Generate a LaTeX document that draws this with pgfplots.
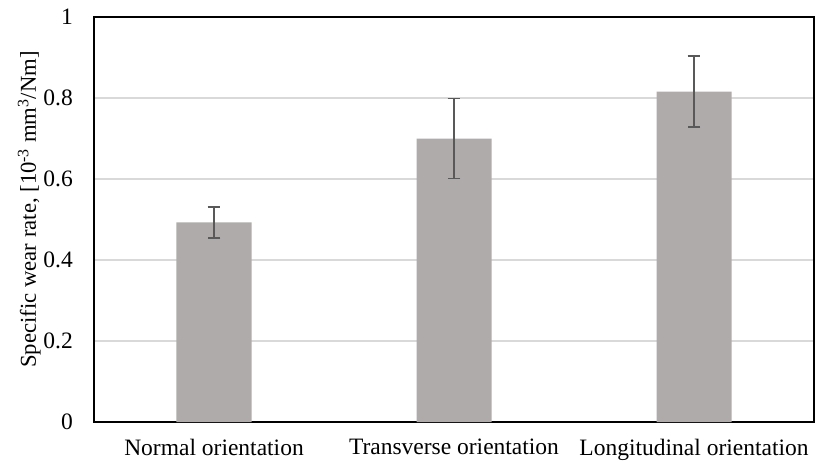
\documentclass[border=0pt]{standalone}
\usepackage{pgfplots}
\pgfplotsset{compat=1.18}
\usepackage{fontspec}
\setmainfont{Liberation Serif}
\definecolor{barfill}{HTML}{AFABAB}
\definecolor{errc}{HTML}{595959}
\definecolor{gridc}{HTML}{D9D9D9}
\begin{document}
\begin{tikzpicture}
\useasboundingbox (-94pt,-45pt) rectangle (722pt,422pt);
\begin{axis}[
  scale only axis,
  width=720pt, height=405pt,
  at={(0pt,0pt)}, anchor=south west,
  font=\fontsize{23.5}{28}\selectfont,
  /pgf/number format/assume math mode=true,
  xmin=-0.5, xmax=2.5,
  ymin=0, ymax=1,
  ytick={0,0.2,0.4,0.6,0.8,1},
  yticklabels={0,0.2,0.4,0.6,0.8,1},
  xtick={0,1,2},
  xticklabels={Normal orientation, Transverse orientation, Longitudinal orientation},
  major tick length=0pt,
  ymajorgrids,
  major grid style={gridc, line width=1.3pt},
  axis line style={black, line width=1.6pt},
  yticklabel style={inner sep=0pt, anchor=east, xshift=-21pt},
  xticklabel style={inner sep=0pt, anchor=north, yshift=-17pt},
  ylabel={Specific wear rate, [10\textsuperscript{-3} mm\textsuperscript{3}/Nm]},
  ylabel style={font=\fontsize{22.7}{27}\selectfont, at={(rel axis cs:0,0.5)}, anchor=south, inner sep=0pt, xshift=10pt, yshift=53pt},
  clip=false,
]
\addplot[ybar, bar width=75pt, bar shift=0pt, fill=barfill, draw=none,
  error bars/.cd, y dir=both, y explicit,
  error bar style={errc, line width=1.8pt},
  error mark options={errc, rotate=90, mark size=6.3pt, line width=1.8pt}]
  coordinates {
    (0,0.493) +- (0,0.038)
    (1,0.700) +- (0,0.099)
    (2,0.816) +- (0,0.087)
  };
\end{axis}
\end{tikzpicture}
\end{document}
